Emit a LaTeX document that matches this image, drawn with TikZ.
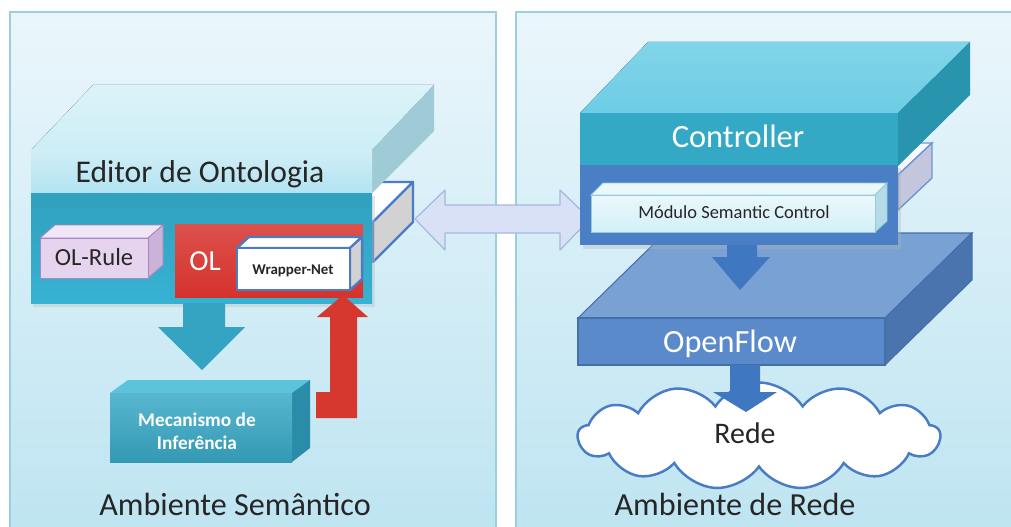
\documentclass[tikz,border=0pt]{standalone}
\usepackage{fontspec}
\setmainfont{Carlito}
\usetikzlibrary{shapes.symbols}
\definecolor{panelb}{HTML}{9ACFE0}
\definecolor{paneltop}{HTML}{EAF6FB}
\definecolor{panelbot}{HTML}{BDE4F1}
\definecolor{edtop}{HTML}{CDEEF6}
\definecolor{edfront}{HTML}{B2E3F1}
\definecolor{edside}{HTML}{9ECBD5}
\definecolor{edbody}{HTML}{37B2D3}
\definecolor{rulefront}{HTML}{E6D4EE}
\definecolor{ruletop}{HTML}{F1E6F6}
\definecolor{ruleside}{HTML}{CBB2D8}
\definecolor{ruleb}{HTML}{A888C2}
\definecolor{olred}{HTML}{D6322D}
\definecolor{wrapb}{HTML}{4A7CC6}
\definecolor{grayside}{HTML}{D2D2D2}
\definecolor{tealarrow}{HTML}{35A4C2}
\definecolor{mecfront}{HTML}{3AAAC8}
\definecolor{mectop}{HTML}{5CC3DC}
\definecolor{mecside}{HTML}{2A8CA8}
\definecolor{redarrow}{HTML}{D6372F}
\definecolor{bifill}{HTML}{D8E1F5}
\definecolor{bib}{HTML}{A6B8DD}
\definecolor{ctrltop}{HTML}{6CCDE5}
\definecolor{ctrlfront}{HTML}{34A9C5}
\definecolor{ctrlside}{HTML}{2994AE}
\definecolor{ctrlbody}{HTML}{4A7FC6}
\definecolor{modfront}{HTML}{D3F0F8}
\definecolor{modtop}{HTML}{EAF8FC}
\definecolor{modside}{HTML}{B3DCE6}
\definecolor{modb}{HTML}{93CCDA}
\definecolor{purpside}{HTML}{C4C6DE}
\definecolor{bluearrow}{HTML}{3F77C0}
\definecolor{oftop}{HTML}{79A1D4}
\definecolor{offront}{HTML}{5B8ACA}
\definecolor{ofside}{HTML}{4A74AE}
\definecolor{ofb}{HTML}{4470AA}
\definecolor{txt}{HTML}{262626}
\tikzset{
  panel/.style={draw=panelb, line width=0.9pt, top color=paneltop, bottom color=panelbot},
  lbl/.style={anchor=base, inner sep=0pt, text=txt},
  wlbl/.style={anchor=base, inner sep=0pt, text=white},
  slabline/.style={draw=wrapb, line width=1.3pt, line join=round},
}
\begin{document}
\begin{tikzpicture}[x=0.02cm,y=-0.02cm]
\useasboundingbox (0,0) rectangle (1011,527);
\clip (0,0) rectangle (1011,527);
\fill[white] (0,0) rectangle (1011,527);
% panels
\path[panel] (10,12) rectangle (496,545);
\path[panel] (516,12) rectangle (1012,545);

% ---------- left: slab behind editor ----------
\filldraw[slabline, fill=white] (330,222) -- (373,222) -- (413,182) -- (370,182) -- cycle;
\filldraw[slabline, fill=grayside] (373,222) -- (413,182) -- (413,222) -- (373,262) -- cycle;

% Editor de Ontologia
\fill[top color=edtop!70!white, bottom color=edtop] (31,150) -- (372,150) -- (434,85) -- (93,85) -- cycle;
\fill[edside] (372,150) -- (434,85) -- (434,131) -- (372,193) -- cycle;
\fill[top color=edfront!60!white, bottom color=edfront] (31,150) rectangle (372,193);
\fill[black!25, opacity=0.4] (33,196) rectangle (375,307);
\fill[top color=edbody!90!black, bottom color=edbody] (31,193) rectangle (372,303);
\node[lbl, font=\fontsize{18pt}{20pt}\selectfont] (ed) at (200,182) {Editor de Ontologia};

% OL-Rule
\filldraw[draw=ruleb, line width=0.5pt, fill=ruletop] (40,238) -- (148,238) -- (163,225) -- (55,225) -- cycle;
\filldraw[draw=ruleb, line width=0.5pt, fill=ruleside] (148,238) -- (163,225) -- (163,265) -- (148,278) -- cycle;
\filldraw[draw=ruleb, line width=0.5pt, fill=rulefront] (40,238) rectangle (148,278);
\node[lbl, font=\fontsize{14pt}{16pt}\selectfont] (olrule) at (94,265) {OL-Rule};

% OL red
\fill[top color=olred!85!white, bottom color=olred] (175,224) rectangle (363,297);
\node[wlbl, font=\fontsize{16.5pt}{18pt}\selectfont] (ol) at (205,270) {OL};

% Wrapper-Net
\filldraw[slabline, fill=white] (237,248) -- (350,248) -- (362,237) -- (249,237) -- cycle;
\filldraw[slabline, fill=grayside] (350,248) -- (362,237) -- (362,279) -- (350,290) -- cycle;
\filldraw[slabline, fill=white] (237,248) rectangle (350,290);
\node[lbl, font=\bfseries\fontsize{8.5pt}{10pt}\selectfont] (wrap) at (293,274) {Wrapper-Net};

% teal down arrow
\fill[tealarrow] (183,303) -- (225,303) -- (225,327) -- (245,327) -- (202,370) -- (158,327) -- (183,327) -- cycle;

% Mecanismo de Inferencia
\fill[mectop] (110,393) -- (292,393) -- (310,380) -- (128,380) -- cycle;
\fill[mecside] (292,393) -- (310,380) -- (310,448) -- (292,462) -- cycle;
\fill[top color=mecfront!85!white, bottom color=mecfront!90!black] (110,393) rectangle (292,462);
\node[wlbl, font=\bfseries\fontsize{11pt}{13pt}\selectfont] (mec1) at (197,426) {Mecanismo de};
\node[wlbl, font=\bfseries\fontsize{11pt}{13pt}\selectfont] (mec2) at (197,449) {Inferência};

% red bent arrow
\fill[redarrow] (316,392) -- (330,392) -- (330,317) -- (317,317) -- (343,295) -- (368,317) -- (357,317) -- (357,418) -- (316,418) -- cycle;

% bidirectional arrow
\filldraw[fill=bifill, draw=bib, line width=0.7pt, line join=round]
  (415,219) -- (445,190) -- (445,205) -- (560,205) -- (560,190) -- (590,219) -- (560,250) -- (560,233) -- (445,233) -- (445,250) -- cycle;

\node[lbl, font=\fontsize{18.3pt}{20pt}\selectfont] (ambsem) at (235,515) {Ambiente Semântico};

% ---------- right ----------
% OpenFlow
\filldraw[draw=ofb, line width=0.6pt, fill=oftop] (578,318) -- (885,318) -- (972,233) -- (665,233) -- cycle;
\filldraw[draw=ofb, line width=0.6pt, fill=ofside] (885,318) -- (972,233) -- (972,280) -- (885,365) -- cycle;
\filldraw[draw=ofb, line width=0.6pt, fill=offront] (578,318) rectangle (885,365);
\node[wlbl, font=\fontsize{18.4pt}{20pt}\selectfont] (of) at (730,352) {OpenFlow};

% purple slab behind controller
\filldraw[draw=wrapb!80!white, line width=0.8pt, fill=white!90!purpside] (860,175) -- (898,175) -- (932,143) -- (894,143) -- cycle;
\filldraw[draw=wrapb!80!white, line width=0.8pt, fill=purpside] (898,175) -- (932,143) -- (932,178) -- (898,210) -- cycle;

% Controller
\fill[top color=ctrltop!85!white, bottom color=ctrltop] (580,113) -- (898,113) -- (970,42) -- (648,42) -- cycle;
\fill[ctrlside] (898,113) -- (970,42) -- (970,95) -- (898,166) -- cycle;
\fill[ctrlfront] (580,113) rectangle (898,166);
\fill[black!30, opacity=0.35] (583,168) rectangle (901,249);
\fill[ctrlbody] (580,165) rectangle (898,245);
\node[wlbl, font=\fontsize{18.5pt}{20pt}\selectfont] (ctrl) at (738,148) {Controller};

% Modulo Semantic Control
\filldraw[draw=modb, line width=0.5pt, fill=modtop] (591,195) -- (875,195) -- (887,183) -- (603,183) -- cycle;
\filldraw[draw=modb, line width=0.5pt, fill=modside] (875,195) -- (887,183) -- (887,221) -- (875,232) -- cycle;
\filldraw[draw=modb, line width=0.5pt, top color=modtop, bottom color=modfront] (591,195) rectangle (875,232);
\node[lbl, font=\fontsize{10.5pt}{12pt}\selectfont] (mod) at (734,218) {Módulo Semantic Control};

% arrow controller -> openflow
\fill[bluearrow] (727,245) -- (757,245) -- (757,257) -- (770,257) -- (740,290) -- (712,257) -- (727,257) -- cycle;

% cloud
\node[cloud, cloud puffs=13, cloud puff arc=115, aspect=3.4, draw=wrapb, line width=1.4pt, fill=white,
      minimum width=7.24cm, minimum height=2.14cm, inner sep=0pt] (rede) at (759,436) {};
\node[lbl, font=\fontsize{17pt}{19pt}\selectfont] (redetxt) at (745,443) {Rede};

% arrow openflow -> cloud
\fill[bluearrow] (730,365) -- (760,365) -- (760,392) -- (777,392) -- (746,412) -- (713,392) -- (730,392) -- cycle;

\node[lbl, font=\fontsize{18.3pt}{20pt}\selectfont] (ambrede) at (735,515) {Ambiente de Rede};
\end{tikzpicture}
\end{document}
